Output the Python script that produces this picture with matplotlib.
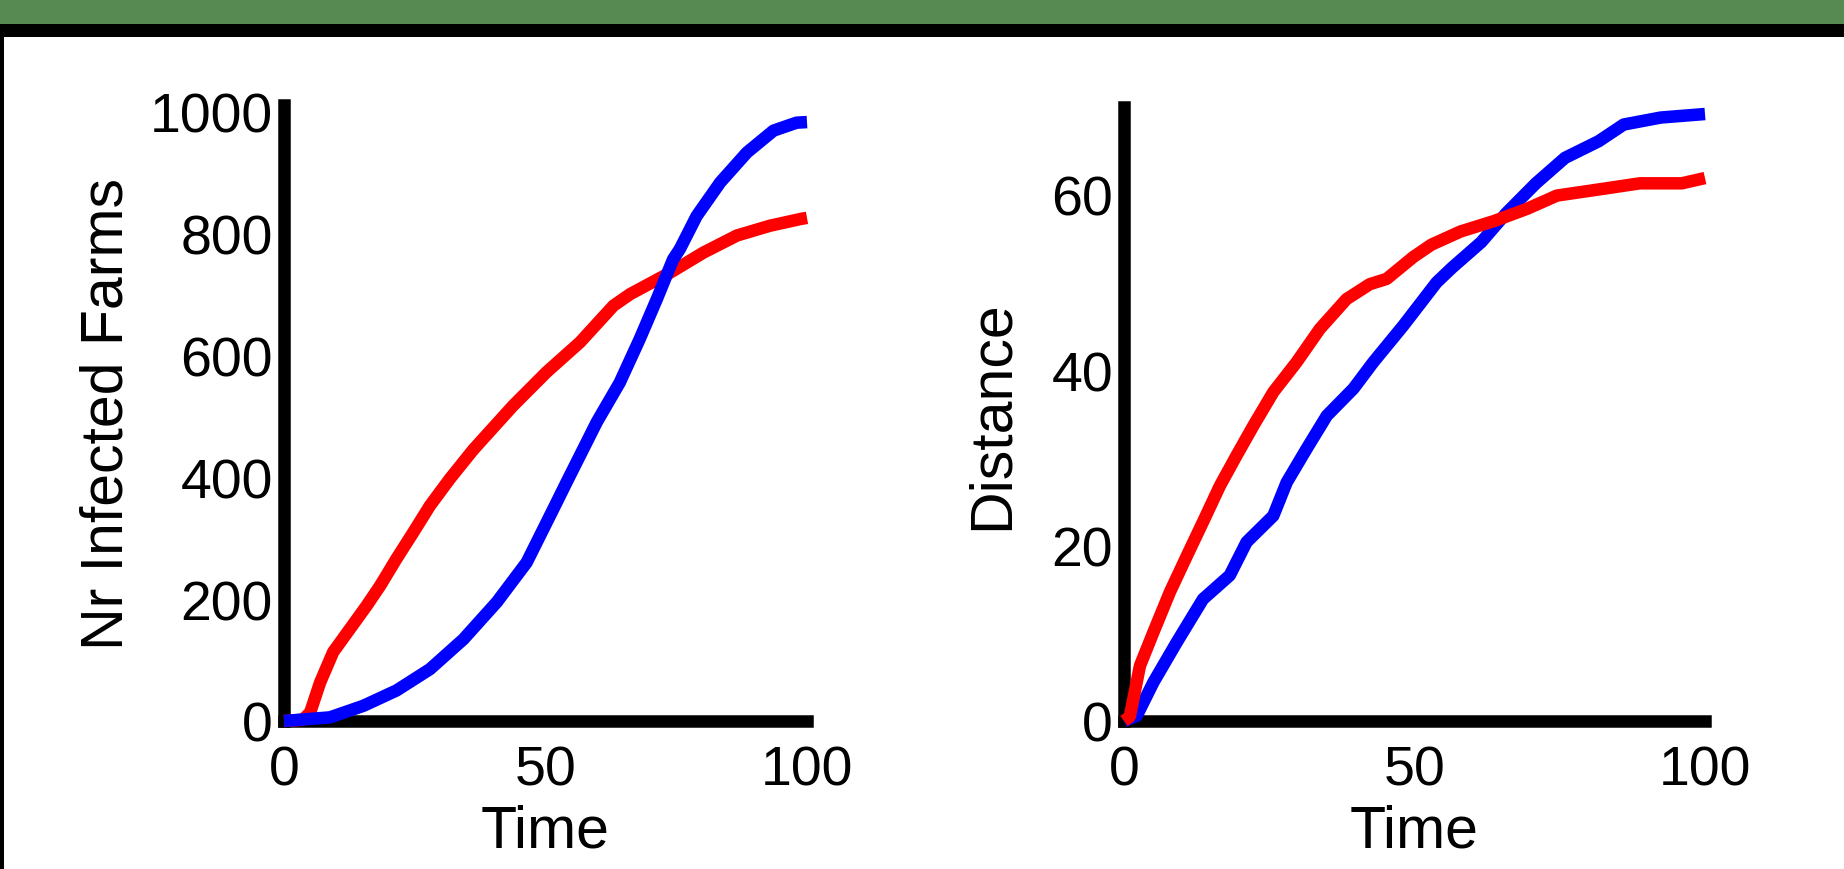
import matplotlib
matplotlib.use("Agg")
import matplotlib.pyplot as plt
from matplotlib.patches import Rectangle

plt.rcParams['font.family'] = ['Liberation Sans', 'DejaVu Sans']

# ---- data ----
t_left_red = [0, 3.6, 5.0, 6.9, 9.4, 12.6, 15.8, 18.4, 21.5, 24.7, 27.9, 31.7, 36.2, 43.8, 50.2, 56.6, 63, 66.2, 73.8, 80.2, 86.6, 92.9, 98.7, 100]
v_left_red = [0, 2, 14, 63, 113, 151, 189, 222, 266, 309, 353, 397, 445, 517, 572, 621, 681, 700, 735, 768, 796, 812, 823, 825]

t_left_blue = [0, 8.8, 15.2, 21.5, 27.9, 34.3, 40.7, 46.4, 52.1, 54, 59.8, 64.2, 68, 71.3, 74.4, 75.7, 78.9, 83.4, 88.5, 93.6, 98, 100]
v_left_blue = [0, 6, 25, 50, 85, 134, 195, 260, 358, 391, 490, 555, 626, 692, 757, 774, 828, 883, 932, 968, 981, 982]

t_right_red = [0, 1, 2.75, 5.05, 7.9, 10.8, 13.6, 16.5, 19.4, 22.3, 25.7, 29.7, 33.7, 38.3, 42.3, 45.2, 49.8, 52.9, 57.9, 63.7, 69.4, 74.5, 81.7, 88.8, 96, 100]
v_right_red = [0, 0.5, 6.3, 10.1, 14.7, 18.8, 22.7, 26.8, 30.3, 33.7, 37.5, 40.9, 44.7, 48.1, 49.8, 50.4, 52.9, 54.3, 55.8, 57, 58.4, 59.9, 60.6, 61.3, 61.3, 61.9]

t_right_blue = [0, 2.2, 5.05, 9.1, 13.6, 18.2, 21.1, 25.7, 28, 31.4, 34.9, 39.5, 42.9, 48.1, 53.8, 56.5, 61.5, 65.8, 70.9, 75.9, 81.7, 86, 92.4, 100]
v_right_blue = [0, 0.6, 4.4, 9, 13.9, 16.6, 20.4, 23.4, 27.2, 31, 34.8, 37.9, 40.9, 45.1, 50, 51.7, 54.6, 57.9, 61.3, 64.2, 66.1, 68, 68.8, 69.2]

x_ticks = [0, 50, 100]
left_y_ticks = [0, 200, 400, 600, 800, 1000]
right_y_ticks = [0, 20, 40, 60]

x_label = "Time"
left_y_label = "Nr Infected Farms"
right_y_label = "Distance"

# ---- figure ----
W, H = 1844, 870
fig = plt.figure(figsize=(W / 100, H / 100), dpi=100)
fig.patch.set_facecolor('white')

# frame decoration: green band, black band, left black border
fig.patches.append(Rectangle((0, 1 - 25 / H), 1, 25 / H, transform=fig.transFigure,
                             facecolor='#578A52', edgecolor='none', zorder=0))
fig.patches.append(Rectangle((0, 1 - 38 / H), 1, 13 / H, transform=fig.transFigure,
                             facecolor='black', edgecolor='none', zorder=0))
fig.patches.append(Rectangle((0, 0), 4 / W, 1 - 38 / H, transform=fig.transFigure,
                             facecolor='black', edgecolor='none', zorder=0))


def px_axes(x0, x1, y_bottom, y_top):
    return fig.add_axes([x0 / W, 1 - y_bottom / H, (x1 - x0) / W, (y_bottom - y_top) / H])


axL = px_axes(284, 807, 722, 106)
axR = px_axes(1124, 1705, 722, 108)

LW = 9.0
SPW = 9.0
FS = 40
LFS = 42.5

for ax in (axL, axR):
    ax.set_facecolor('none')
    for s in ('top', 'right'):
        ax.spines[s].set_visible(False)
    for s in ('left', 'bottom'):
        ax.spines[s].set_linewidth(SPW)
        ax.spines[s].set_color('black')
    ax.tick_params(length=0, labelsize=FS, colors='black')
    ax.tick_params(axis='x', pad=17)
    ax.tick_params(axis='y', pad=8)
    ax.set_xlim(0, 100)
    ax.set_xticks(x_ticks)
    ax.set_xticklabels([str(v) for v in x_ticks])
    ax.set_xlabel(x_label, fontsize=LFS)

# left panel
axL.plot(t_left_red, v_left_red, color='#FF0000', lw=LW, solid_capstyle='butt', clip_on=False, zorder=3)
axL.plot(t_left_blue, v_left_blue, color='#0000FF', lw=LW, solid_capstyle='butt', clip_on=False, zorder=4)
axL.set_ylim(0, 1010)
axL.set_yticks(left_y_ticks)
axL.set_yticklabels([str(v) for v in left_y_ticks])
axL.set_ylabel(left_y_label, fontsize=LFS)
axL.xaxis.set_label_coords(0.5, (722 - 805) / 616)
axL.yaxis.set_label_coords((134 - 284) / 523, 0.5)

# right panel
axR.plot(t_right_blue, v_right_blue, color='#0000FF', lw=LW, solid_capstyle='butt', clip_on=False, zorder=3)
axR.plot(t_right_red, v_right_red, color='#FF0000', lw=LW, solid_capstyle='butt', clip_on=False, zorder=4)
axR.set_ylim(0, 70)
axR.set_yticks(right_y_ticks)
axR.set_yticklabels([str(v) for v in right_y_ticks])
axR.set_ylabel(right_y_label, fontsize=LFS)
axR.xaxis.set_label_coords(0.5, (722 - 805) / 614)
axR.yaxis.set_label_coords((1020 - 1124) / 581, 0.5)

fig.savefig('out.png', dpi=100, facecolor=fig.get_facecolor())
